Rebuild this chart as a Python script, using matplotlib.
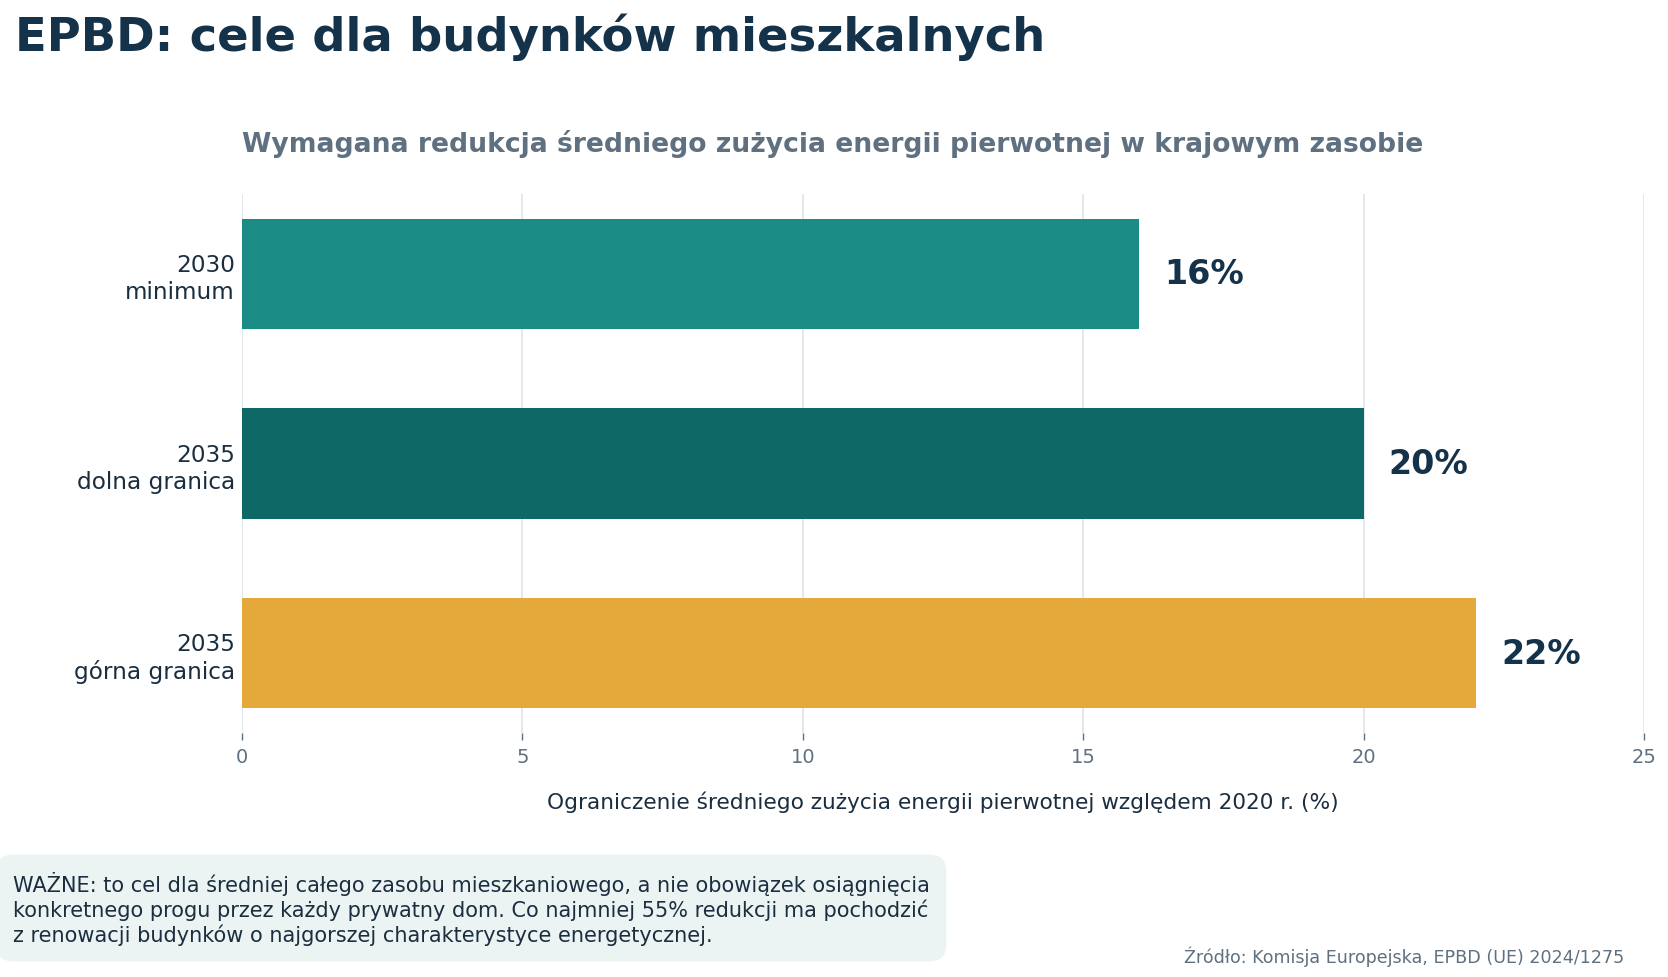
import matplotlib
matplotlib.use('Agg')
import matplotlib.pyplot as plt

# data
categories = ['2030\nminimum', '2035\ndolna granica', '2035\ngórna granica']
values = [16, 20, 22]
value_labels = ['16%', '20%', '22%']
bar_colors = ['#1a8c85', '#0e6966', '#e5a83b']
x_ticks = [0, 5, 10, 15, 20, 25]

DARK = '#14324a'
TEXT = '#1b2e40'
GREY = '#5f7080'

plt.rcParams['font.family'] = 'DejaVu Sans'

fig = plt.figure(figsize=(16.68, 9.78), dpi=100)
ax = fig.add_axes([0.1451, 0.2495, 0.8405, 0.5511])

y = list(range(len(categories)))
ax.barh(y, values, height=0.58, color=bar_colors, zorder=2)
ax.invert_yaxis()

for yi, v, lab in zip(y, values, value_labels):
    ax.text(v + 0.45, yi, lab, va='center', ha='left', fontsize=24,
            fontweight='bold', color=DARK, zorder=3)

ax.set_xlim(0, 25)
ax.set_xticks(x_ticks)
ax.set_xticklabels([str(t) for t in x_ticks])
ax.set_yticks(y)
ax.set_yticklabels(categories, fontsize=16.7, color=TEXT)

ax.grid(axis='x', color='#dfe7ea', linewidth=1.3, zorder=0)
ax.grid(axis='y', visible=False)
for s in ax.spines.values():
    s.set_visible(False)
ax.tick_params(axis='y', length=0, pad=5)
ax.tick_params(axis='x', length=5, width=1, color=GREY, labelsize=14,
               labelcolor=GREY, pad=5)

ax.set_xlabel('Ograniczenie średniego zużycia energii pierwotnej względem 2020 r. (%)',
              fontsize=15.6, color=TEXT, labelpad=18)
ax.set_title('Wymagana redukcja średniego zużycia energii pierwotnej w krajowym zasobie',
             loc='left', fontsize=19.2, fontweight='bold', color=GREY, pad=31)

fig.text(15 / 1668, 1 - 50.7 / 978, 'EPBD: cele dla budynków mieszkalnych',
         fontsize=33.5, fontweight='bold', color=DARK, va='baseline', ha='left')

note = ('WAŻNE: to cel dla średniej całego zasobu mieszkaniowego, a nie obowiązek osiągnięcia\n'
        'konkretnego progu przez każdy prywatny dom. Co najmniej 55% redukcji ma pochodzić\n'
        'z renowacji budynków o najgorszej charakterystyce energetycznej.')
fig.text(12.7 / 1668, 1 - 909 / 978, note, fontsize=15, color=TEXT,
         va='center', ha='left', linespacing=1.18,
         bbox=dict(boxstyle='round,pad=0.8,rounding_size=0.8',
                   facecolor='#ecf4f3', edgecolor='none'))

fig.text(1624 / 1668, 1 - 963 / 978, 'Źródło: Komisja Europejska, EPBD (UE) 2024/1275',
         fontsize=12.6, color=GREY, ha='right', va='baseline')

fig.savefig('out.png', dpi=100)
